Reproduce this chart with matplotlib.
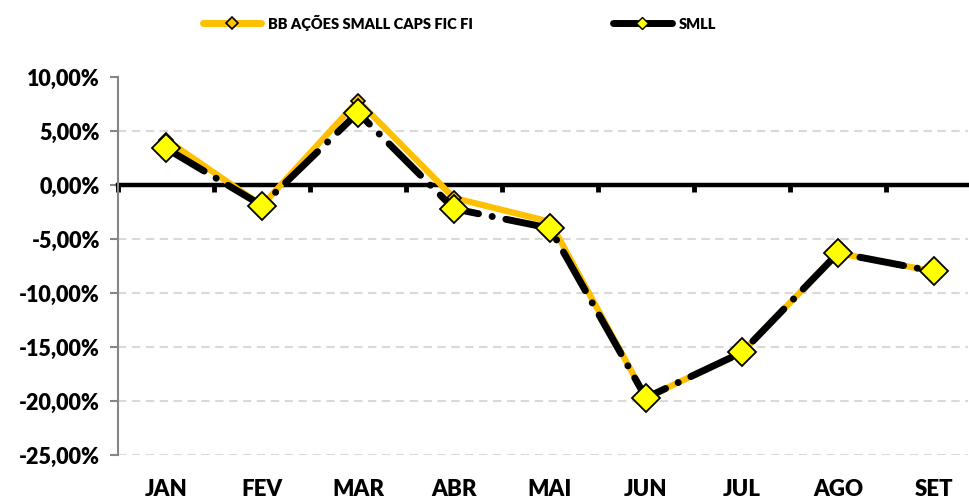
import numpy as np
from matplotlib import pyplot as plt
from matplotlib.lines import Line2D
from matplotlib.transforms import blended_transform_factory

# Monthly returns
months = ["JAN", "FEV", "MAR", "ABR", "MAI", "JUN", "JUL", "AGO", "SET"]
bb_smallcaps = [4.2, -1.9, 7.8, -1.2, -3.4, -19.7, -15.5, -6.3, -8.0]
smll = [3.4, -1.9, 6.7, -2.2, -4.0, -19.7, -15.5, -6.3, -8.0]
y_ticks = [10, 5, 0, -5, -10, -15, -20, -25]

plt.rcParams['font.family'] = ['Lato', 'DejaVu Sans']
plt.rcParams['font.weight'] = 'heavy'
plt.rcParams['lines.scale_dashes'] = False

fig = plt.figure(figsize=(9.7, 5.01), dpi=100)
ax = fig.add_axes([0.1216, 0.0918, 0.8763, 0.7545])

x = np.arange(len(months))
orange = '#FFC000'

ax.plot(x, bb_smallcaps, color=orange, lw=4.5, marker='D', markersize=7,
        markerfacecolor=orange, markeredgecolor='black', markeredgewidth=1.2,
        zorder=3, solid_joinstyle='miter')
smll_line, = ax.plot(x, smll, color='black', lw=5, zorder=4,
                     dash_capstyle='round')
smll_line.set_dashes((32, 10, 0.1, 10))
ax.plot(x, smll, ls='none', marker='D', markersize=14, markerfacecolor='#FFFF00',
        markeredgecolor='black', markeredgewidth=1.3, zorder=5)

ax.set_yticks(y_ticks)
ax.set_yticklabels([f"{v:.2f}%".replace('.', ',') for v in y_ticks], fontsize=15.5)
ax.yaxis.grid(True, color='#d9d9d9', linestyle=(0, (6, 4)), lw=1.5)
ax.set_axisbelow(True)
for v, gl in zip(y_ticks, ax.yaxis.get_gridlines()):
    if v in (10, 0):
        gl.set_visible(False)

ax.spines['top'].set_visible(False)
ax.spines['right'].set_visible(False)
ax.spines['left'].set_color('#868686')
ax.spines['left'].set_linewidth(1.5)
ax.tick_params(axis='y', color='#868686', width=1.5, length=6, pad=7)

# zero line as category axis with boundary ticks
ax.spines['bottom'].set_position(('data', 0))
ax.spines['bottom'].set_linewidth(3.2)
ax.spines['bottom'].set_zorder(2)
ax.set_xticks(np.arange(-0.5, len(months), 1.0))
ax.set_xticklabels([])
ax.tick_params(axis='x', color='black', width=3.5, length=5, direction='out')
ax.set_ylim(-25, 10)
ax.set_xlim(-0.5, 8.354)

trans = blended_transform_factory(ax.transData, ax.transAxes)
for xi, m in zip(x, months):
    ax.text(xi, -0.092, m, transform=trans, ha='center', va='center',
            fontsize=16)

handles = [
    Line2D([], [], color=orange, lw=5, solid_capstyle='round', marker='D', markersize=6,
           markerfacecolor=orange, markeredgecolor='black', markeredgewidth=1.2),
    Line2D([], [], color='black', lw=5, solid_capstyle='round', marker='D', markersize=6,
           markerfacecolor='#FFFF00', markeredgecolor='black', markeredgewidth=1),
]
fig.legend(handles, ["BB AÇÕES SMALL CAPS FIC FI", "SMLL"], loc='center',
           bbox_to_anchor=(0.4737, 0.955), ncol=2, frameon=False, fontsize=10.5,
           handlelength=4.0, columnspacing=9.6, handletextpad=0.5)

fig.savefig('out.png', dpi=100)
